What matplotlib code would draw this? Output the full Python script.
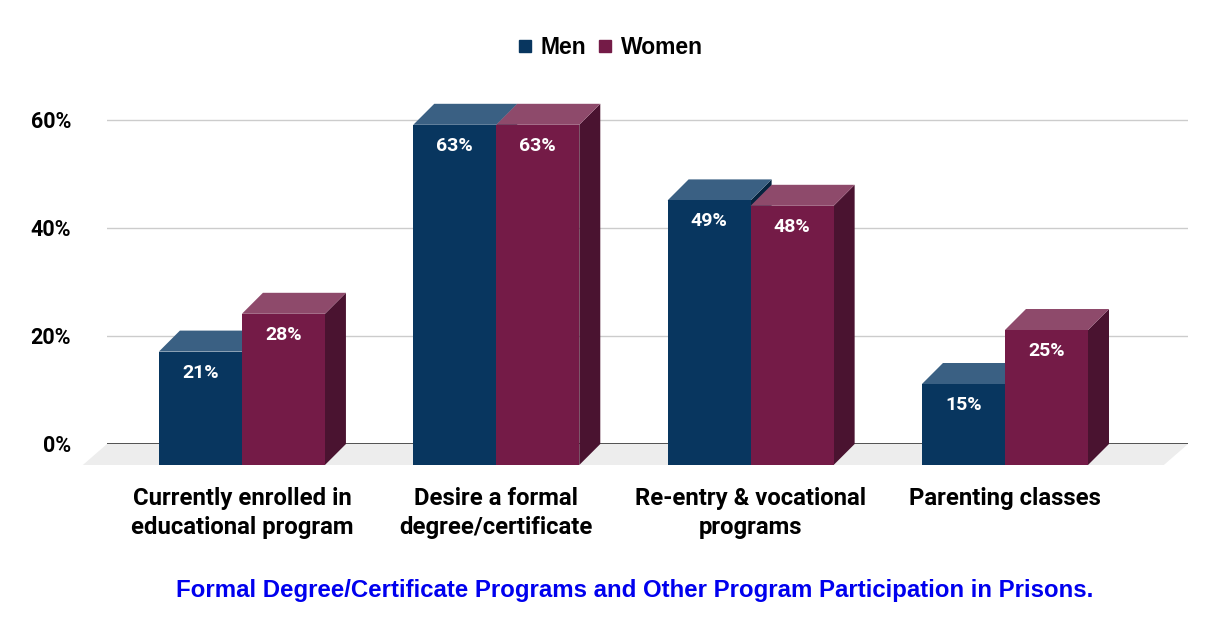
import numpy as np
import matplotlib
matplotlib.use("Agg")
import matplotlib.pyplot as plt
from matplotlib.patches import Polygon
from matplotlib.lines import Line2D

categories = ["Currently enrolled in\neducational program",
              "Desire a formal\ndegree/certificate",
              "Re-entry & vocational\nprograms",
              "Parenting classes"]
men = [21, 63, 49, 15]
women = [28, 63, 48, 25]
yticks = [0, 20, 40, 60]

title = "Formal Degree/Certificate Programs and Other Program Participation in Prisons."

# colours (front, top, side)
men_cols = ("#08365f", "#3a6083", "#05243f")
women_cols = ("#741b47", "#8e4a6b", "#4a1330")

fig = plt.figure(figsize=(12.2, 6.36), dpi=100)
# axes spans the back plane of the pseudo 3d chart
ax = fig.add_axes([107 / 1220, (636 - 444) / 636, (1188 - 107) / 1220, 66 * 5.4 / 636])
ax.set_xlim(-0.613, 3.637)
ax.set_ylim(0, 66)

# depth of the 3d effect in data units (21 px each way)
dx = 21 / 254.3
dy = 21 / 5.4
bw = 83 / 254.3

# floor
xl, xr = ax.get_xlim()
floor = Polygon([(xl, 0), (xr, 0), (xr - dx * 1.15, -dy), (xl - dx * 1.15, -dy)],
                closed=True, fc="#ededed", ec="none", clip_on=False, zorder=1)
ax.add_patch(floor)

for y in yticks[1:]:
    ax.axhline(y, color="#cccccc", lw=1, zorder=0)
ax.axhline(0, color="#333333", lw=1.2, zorder=2)


def bar3d(x0, h, cols):
    x1 = x0 + bw
    side = [(x1 - dx, -dy), (x1, 0), (x1, h), (x1 - dx, h - dy)]
    top = [(x0 - dx, h - dy), (x1 - dx, h - dy), (x1, h), (x0, h)]
    front = [(x0 - dx, -dy), (x1 - dx, -dy), (x1 - dx, h - dy), (x0 - dx, h - dy)]
    for pts, c in [(side, cols[2]), (top, cols[1]), (front, cols[0])]:
        ax.add_patch(Polygon(pts, closed=True, fc=c, ec="none", clip_on=False, zorder=3))
    ax.text(x0 - dx + bw / 2, h - dy - 3.9, f"{h}%", color="white", ha="center",
            va="center", fontsize=14, fontweight="bold", family="Roboto", zorder=4)


x = np.arange(len(categories))
for i in x:
    bar3d(i - bw, men[i], men_cols)
    bar3d(i, women[i], women_cols)

ax.set_yticks(yticks)
ax.set_yticklabels([f"{v}%" for v in yticks], fontsize=15.5, fontweight="bold", family="Roboto")
ax.set_xticks(x - dx)
ax.set_xticklabels(categories, fontsize=17.2, fontweight="bold", family="Roboto",
                   linespacing=1.32, va="top")
ax.tick_params(axis="y", length=0, pad=26)
ax.tick_params(axis="x", length=0, pad=31)
for s in ax.spines.values():
    s.set_visible(False)

handles = [Line2D([], [], marker="s", ls="none", ms=8, color=men_cols[0]),
           Line2D([], [], marker="s", ls="none", ms=8, color=women_cols[0])]
fig.legend(handles, ["Men", "Women"], loc="center", bbox_to_anchor=(0.4985, 0.925), ncol=2,
           frameon=False, prop={"family": "Liberation Sans", "weight": "bold", "size": 16.5},
           handletextpad=0.2, columnspacing=0.3, handlelength=1)

fig.text(0.5205, 0.0723, title, ha="center", va="center", color="#0000ee",
         fontsize=17.3, fontweight="bold", family="Liberation Sans")

plt.savefig("out.png", dpi=100)
